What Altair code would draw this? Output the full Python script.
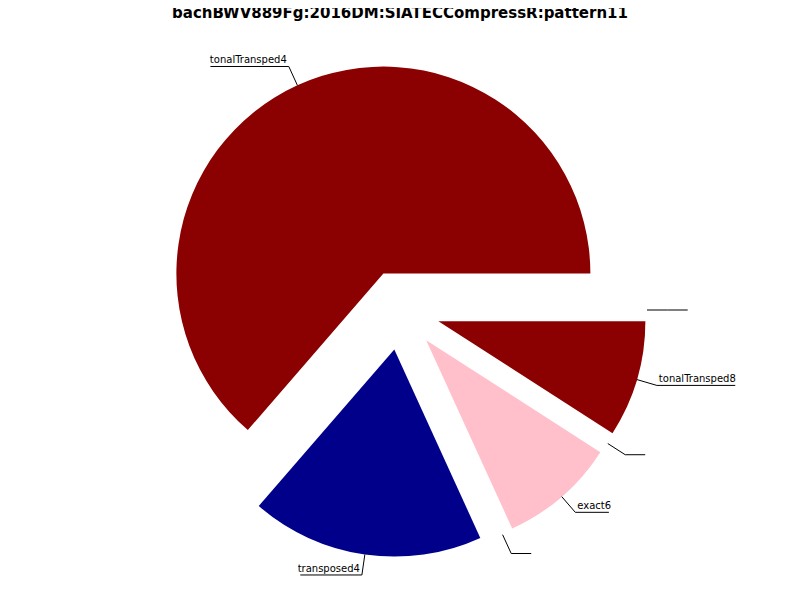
import math
import altair as alt
import pandas as pd

labels = ["tonalTransped4", "transposed4", "", "exact6", "", "tonalTransped8", ""]
values = [7, 2, 0, 1, 0, 1, 0]
colors = ["#8b0000", "#00008b", "#808080", "#ffc0cb", "#808080", "#8b0000", "#808080"]
title = "bachBWV889Fg:2016DM:SIATECCompressR:pattern11"

CX, CY, R, EXPL = 392, 302, 207, 40  # chart-pixel centre, radius, explode distance
total = sum(values)
rows, cum = [], 0.0
for i, (lab, v, c) in enumerate(zip(labels, values, colors)):
    a0 = 2 * math.pi * cum / total
    cum += v
    a1 = 2 * math.pi * cum / total
    mid = (a0 + a1) / 2
    dx, dy = math.cos(mid), -math.sin(mid)
    cx, cy = CX + EXPL * dx, CY + EXPL * dy
    px, py = cx + R * dx, cy + R * dy
    lx, ly = cx + 1.1 * R * dx, cy + 1.1 * R * dy
    w = max(len(lab) * 5.6, 18) if lab else 20
    right = dx >= 0
    rows.append(dict(label=lab, color=c, idx=i, cx=cx, cy=cy,
                     t0=math.pi / 2 - a0, t1=math.pi / 2 - a1,
                     px=px, py=py, lx=lx, ly=ly,
                     ux2=lx + w if right else lx - w,
                     tx=lx + 2 if right else lx - 2,
                     side="left" if right else "right", v=v))
df = pd.DataFrame(rows)

arcs = alt.Chart(df[df["v"] > 0]).mark_arc(radius=R).encode(
    x=alt.X("cx:Q", scale=None, axis=None),
    y=alt.Y("cy:Q", scale=None, axis=None),
    theta=alt.Theta("t0:Q", scale=None),
    theta2="t1:Q",
    color=alt.Color("color:N", scale=None),
)
lead = alt.Chart(df).mark_rule(color="black", strokeWidth=1).encode(
    x=alt.X("px:Q", scale=None), y=alt.Y("py:Q", scale=None),
    x2="lx:Q", y2="ly:Q")
under = alt.Chart(df).mark_rule(color="black", strokeWidth=1).encode(
    x=alt.X("lx:Q", scale=None), y=alt.Y("ly:Q", scale=None), x2="ux2:Q")
txt_l = alt.Chart(df[df["side"] == "left"]).mark_text(
    align="left", baseline="bottom", dy=-1, font="DejaVu Sans", fontSize=10).encode(
    x=alt.X("tx:Q", scale=None), y=alt.Y("ly:Q", scale=None), text="label:N")
txt_r = alt.Chart(df[df["side"] == "right"]).mark_text(
    align="right", baseline="bottom", dy=-1, font="DejaVu Sans", fontSize=10).encode(
    x=alt.X("tx:Q", scale=None), y=alt.Y("ly:Q", scale=None), text="label:N")
ttl = alt.Chart(pd.DataFrame({"t": [title]})).mark_text(
    font="DejaVu Sans", fontSize=15, fontWeight="bold", align="center", baseline="middle").encode(
    x=alt.value(392), y=alt.value(5), text="t:N")

chart = alt.layer(arcs, lead, under, txt_l, txt_r, ttl).properties(
    width=784, height=584, autosize="none", padding=0
).configure_view(stroke=None)

chart.save("out.html", embed_options={"renderer": "svg", "actions": False})
